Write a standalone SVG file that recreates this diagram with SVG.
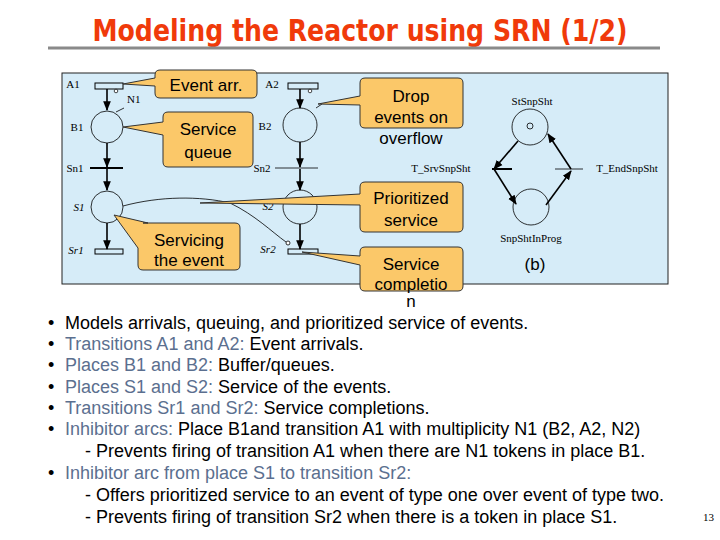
<svg xmlns="http://www.w3.org/2000/svg" width="720" height="540" viewBox="0 0 720 540">
<defs>
<marker id="ah" viewBox="0 0 10 10" refX="9" refY="5" markerWidth="6" markerHeight="6" orient="auto"><path d="M0,1 L10,5 L0,9 z" fill="#000"/></marker>
<style>
.pl{fill:none;stroke:#000;stroke-width:0.8}
.tr{fill:none;stroke:#000;stroke-width:1}
.lb{font-family:"Liberation Serif",serif;font-size:11px;fill:#000}
.arc{fill:none;stroke:#000;stroke-width:1.6;marker-end:url(#ah)}
.co{fill:#fbc869;stroke:#333;stroke-width:1}
.ct{font-family:"Liberation Sans",sans-serif;font-size:17px;fill:#000;text-anchor:middle}
.bt{font-family:"Liberation Sans",sans-serif;font-size:18px;fill:#000}
.k{fill:#5b6f8f}
</style>
</defs>
<rect width="720" height="540" fill="#fff"/>
<text x="360" y="41" font-family="DejaVu Sans Condensed,Liberation Sans,sans-serif" font-weight="bold" font-size="30" fill="#f03a0a" text-anchor="middle" textLength="535" lengthAdjust="spacingAndGlyphs">Modeling the Reactor using SRN (1/2)</text>
<line x1="48" y1="48" x2="660" y2="48" stroke="#8a8a8a" stroke-width="3"/>
<rect x="62" y="73" width="606" height="211" fill="#d6ecf8" stroke="#222" stroke-width="1"/>
<g id="connectors">
<line class="arc" x1="107" y1="89" x2="107" y2="110"/>
<line class="arc" x1="107" y1="143" x2="107" y2="167"/>
<line class="arc" x1="107" y1="169" x2="107" y2="190"/>
<line class="arc" x1="107" y1="223" x2="107" y2="249"/>
<line class="arc" x1="300" y1="89" x2="300" y2="108"/>
<line class="arc" x1="300" y1="142" x2="300" y2="167"/>
<line class="arc" x1="300" y1="169" x2="300" y2="190"/>
<line class="arc" x1="300" y1="224" x2="300" y2="249"/>
<path d="M123,206 C160,196 200,196 230,203 C255,215 272,232 286,242" fill="none" stroke="#000" stroke-width="0.8"/>
<circle cx="288" cy="243" r="2" fill="#fff" stroke="#000" stroke-width="0.8"/>
<path d="M116,112 L124,108" class="pl"/>
<path d="M316,108 L322,104" class="pl"/>
<line class="arc" x1="518" y1="141" x2="494" y2="169"/>
<line class="arc" x1="494" y1="169" x2="516" y2="204"/>
<line class="arc" x1="546" y1="205" x2="571" y2="171"/>
<line class="arc" x1="571" y1="169" x2="548" y2="134"/>
</g>
<g id="A1"><rect x="95" y="83" width="28" height="6" class="tr"/><circle cx="116" cy="91" r="1.8" fill="#fff" stroke="#000" stroke-width="0.7"/><text x="73" y="88" class="lb" text-anchor="middle">A1</text><text x="127" y="103" class="lb">N1</text></g>
<g id="B1"><circle cx="107" cy="127" r="16" class="pl"/><text x="77" y="131" class="lb" text-anchor="middle">B1</text></g>
<g id="Sn1"><line x1="90" y1="168" x2="123" y2="168" stroke="#000" stroke-width="2"/><text x="75" y="172" class="lb" text-anchor="middle">Sn1</text></g>
<g id="S1"><circle cx="107" cy="207" r="16" class="pl"/><text x="79" y="211" class="lb" text-anchor="middle" font-style="italic">S1</text></g>
<g id="Sr1"><rect x="95" y="249" width="28" height="5" class="tr"/><text x="76" y="254" class="lb" text-anchor="middle" font-style="italic">Sr1</text></g>
<g id="A2"><rect x="288" y="83" width="30" height="6" class="tr"/><circle cx="310" cy="91" r="1.8" fill="#fff" stroke="#000" stroke-width="0.7"/><text x="272" y="88" class="lb" text-anchor="middle">A2</text></g>
<g id="B2"><circle cx="300" cy="125" r="17" class="pl"/><text x="265" y="130" class="lb" text-anchor="middle">B2</text></g>
<g id="Sn2"><line x1="275" y1="168" x2="318" y2="168" stroke="#000" stroke-width="0.8"/><text x="262" y="172" class="lb" text-anchor="middle">Sn2</text></g>
<g id="S2"><circle cx="300" cy="207" r="17" class="pl"/><text x="268" y="210" class="lb" text-anchor="middle" font-style="italic">S2</text></g>
<g id="Sr2"><rect x="288" y="249" width="30" height="5" class="tr"/><text x="268" y="253" class="lb" text-anchor="middle" font-style="italic">Sr2</text></g>
<g id="StSnpSht"><circle cx="530" cy="127" r="18" class="pl"/><circle cx="530" cy="126" r="3" class="pl"/><text x="532" y="105" class="lb" text-anchor="middle">StSnpSht</text></g>
<g id="T_SrvSnpSht"><line x1="492" y1="169" x2="512" y2="169" stroke="#000" stroke-width="2"/><text x="441" y="172" class="lb" text-anchor="middle">T_SrvSnpSht</text></g>
<g id="T_EndSnpSht"><line x1="555" y1="169" x2="583" y2="169" stroke="#000" stroke-width="0.8"/><text x="627" y="172" class="lb" text-anchor="middle">T_EndSnpSht</text></g>
<g id="SnpShtInProg"><circle cx="531" cy="207" r="18" class="pl"/><text x="531" y="242" class="lb" text-anchor="middle">SnpShtInProg</text></g>
<text x="535" y="270" class="ct">(b)</text>
<g id="callout-event"><path class="co" d="M160,70 H252 Q257,70 257,75 V93 Q257,98 252,98 H160 Q155,98 155,93 V86 L123,84 L155,78 V75 Q155,70 160,70 Z"/><text x="206" y="91" class="ct">Event arr.</text></g>
<g id="callout-queue"><path class="co" d="M168,112 H248 Q253,112 253,117 V162 Q253,167 248,167 H168 Q163,167 163,162 V135 L123,127 L163,122 V117 Q163,112 168,112 Z"/><text x="208" y="135" class="ct">Service</text><text x="208" y="158" class="ct">queue</text></g>
<g id="callout-servicing"><path class="co" d="M143,223 H235 Q240,223 240,228 V265 Q240,270 235,270 H143 Q138,270 138,265 V248 L114,215 L148,223 Z"/><text x="189" y="246" class="ct">Servicing</text><text x="189" y="266" class="ct">the event</text></g>
<g id="callout-drop"><path class="co" d="M365,78 H458 Q463,78 463,83 V123 Q463,128 458,128 H365 Q360,128 360,123 V105 L318,104 L360,96 V83 Q360,78 365,78 Z"/><text x="411" y="102" class="ct">Drop</text><text x="411" y="123" class="ct">events on</text><text x="411" y="144" class="ct">overflow</text></g>
<g id="callout-prio"><path class="co" d="M365,182 H458 Q463,182 463,187 V227 Q463,232 458,232 H365 Q360,232 360,227 V205 L200,203 L360,194 V187 Q360,182 365,182 Z"/><text x="411" y="204" class="ct">Prioritized</text><text x="411" y="226" class="ct">service</text></g>
<g id="callout-compl"><path class="co" d="M365,247 H458 Q463,247 463,252 V286 Q463,291 458,291 H365 Q360,291 360,286 V265 L302,252 L360,256 V252 Q360,247 365,247 Z"/><text x="411" y="270" class="ct">Service</text><text x="411" y="290" class="ct">completio</text><text x="411" y="307" class="ct">n</text></g>
<g id="bullets" class="bt">
<text x="48" y="329">•</text><text x="65" y="329">Models arrivals, queuing, and prioritized service of events.</text>
<text x="48" y="350">•</text><text x="65" y="350"><tspan class="k">Transitions A1 and A2:</tspan> Event arrivals.</text>
<text x="48" y="371">•</text><text x="65" y="371"><tspan class="k">Places B1 and B2:</tspan> Buffer/queues.</text>
<text x="48" y="393">•</text><text x="65" y="393"><tspan class="k">Places S1 and S2:</tspan> Service of the events.</text>
<text x="48" y="414">•</text><text x="65" y="414"><tspan class="k">Transitions Sr1 and Sr2:</tspan> Service completions.</text>
<text x="48" y="435">•</text><text x="65" y="435"><tspan class="k">Inhibitor arcs:</tspan> Place B1and transition A1 with multiplicity N1 (B2, A2, N2)</text>
<text x="85" y="457">- Prevents firing of transition A1 when there are N1 tokens in place B1.</text>
<text x="48" y="479">•</text><text x="65" y="479" class="k">Inhibitor arc from place S1 to transition Sr2:</text>
<text x="85" y="501">- Offers prioritized service to an event of type one over event of type two.</text>
<text x="85" y="523">- Prevents firing of transition Sr2 when there is a token in place S1.</text>
</g>
<text x="703" y="521" font-family="Liberation Serif,serif" font-size="11">13</text>
</svg>
